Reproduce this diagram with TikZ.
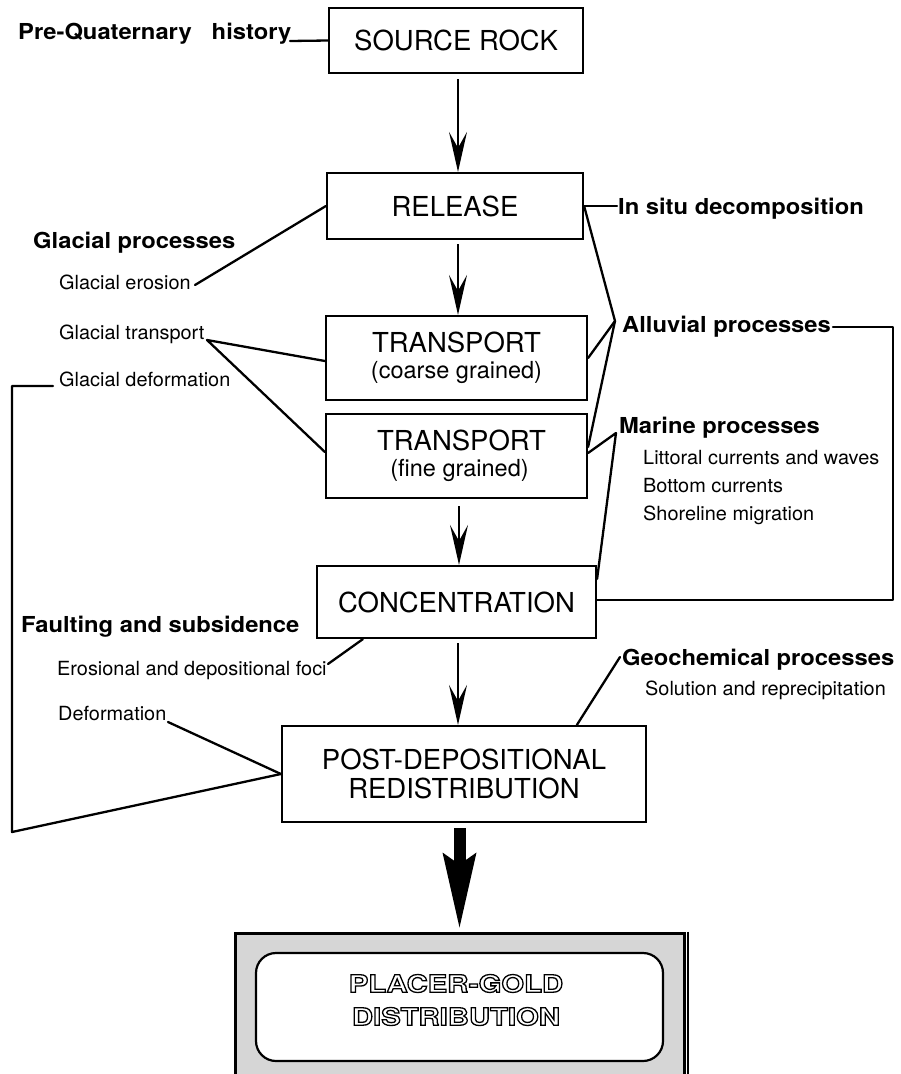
\documentclass[tikz,border=0pt]{standalone}
\usepackage{fontspec}
\usetikzlibrary{arrows.meta,calc}
\newfontfamily\boxfnt{TeX Gyre Heros}
\newfontfamily\labfnt[FakeStretch=1.08]{TeX Gyre Heros}
\newfontfamily\smlfnt[FakeStretch=1.02]{TeX Gyre Heros}
\newfontfamily\holfnt[FakeStretch=1.22]{TeX Gyre Heros}
\newcommand{\hollowtext}[1]{\special{pdf:literal direct 2 Tr 1.3 w 1 g 0 G}#1\special{pdf:literal direct 0 Tr 0 g 0 G}}
\begin{document}
\begin{tikzpicture}[x=1pt,y=-1pt,
  box/.style={draw, line width=2.2pt, inner sep=0pt, align=center,
    font=\boxfnt\fontsize{27.5}{29}\selectfont},
  boldlbl/.style={anchor=base west, inner sep=0pt,
    font=\labfnt\bfseries\fontsize{22}{25}\selectfont},
  smalllbl/.style={anchor=base west, inner sep=0pt,
    font=\smlfnt\fontsize{19.5}{22}\selectfont},
  conn/.style={line width=2.3pt, line cap=round, line join=round},
  flow/.style={line width=1.9pt, -{Stealth[length=40pt,width=18pt,inset=16pt]}},
  bigflow/.style={line width=12pt, -{Stealth[length=75pt,width=34pt,inset=12pt,line width=0pt]}}
]
\useasboundingbox[fill=white] (0,0) rectangle (901,1074);

% ---------- boxes ----------
\node[box, minimum width=254pt, minimum height=65pt] (src) at (456,40.5) {SOURCE ROCK};
\node[box, minimum width=256pt, minimum height=66pt] (rel) at (455,206) {RELEASE};
\node[box, minimum width=261pt, minimum height=84pt] (tc) at (456.5,358)
  {TRANSPORT\\[-2.5pt]{\fontsize{23.5}{26}\selectfont (coarse grained)}};
\node[box, minimum width=261pt, minimum height=84pt] (tf) at (456.5,456)
  {\hspace*{10pt}TRANSPORT\\[-2.5pt]{\fontsize{23.5}{26}\selectfont\hspace*{6pt}(fine grained)}};
\node[box, minimum width=279pt, minimum height=72pt] (conc) at (456.5,602) {CONCENTRATION};
\node[box, minimum width=364pt, minimum height=96pt] (post) at (464,774)
  {POST-DEPOSITIONAL\\REDISTRIBUTION};

\node[draw, line width=3pt, fill=black!16, inner sep=0pt,
      minimum width=449pt, minimum height=160pt] (outer) at (459.5,1013) {};
\draw[line width=2pt] ([xshift=2pt]outer.north east) -- ([xshift=2pt]outer.south east);
\node[draw, line width=2.2pt, fill=white, rounded corners=20pt, inner sep=0pt,
      minimum width=407pt, minimum height=108pt] (pgbox) at (459.5,1007) {};
\node[font=\holfnt\bfseries\fontsize{24}{33}\selectfont, align=center, inner sep=0pt]
  (pgtext) at (456,1000) {\hollowtext{PLACER-GOLD}\\\hollowtext{DISTRIBUTION}};

% ---------- labels ----------
\node[boldlbl] (pre) at (18,39.5) {Pre-Quaternary\hspace{20pt}history};
\node[boldlbl] (glac) at (33,248) {Glacial processes};
\node[smalllbl] (gero) at (59,289) {Glacial erosion};
\node[smalllbl] (gtr) at (59,339) {Glacial transport};
\node[smalllbl] (gdef) at (59,386) {Glacial deformation};
\node[boldlbl] (fault) at (21,632) {Faulting and subsidence};
\node[smalllbl] (ero) at (57,675) {Erosional and depositional foci};
\node[smalllbl] (defo) at (58,720) {Deformation};

\node[boldlbl] (insitu) at (618,214) {In situ decomposition};
\node[boldlbl] (alluv) at (622,332) {Alluvial processes};
\node[boldlbl] (marine) at (619,433) {Marine processes};
\node[smalllbl] (litt) at (643,464) {Littoral currents and waves};
\node[smalllbl] (bott) at (643,492) {Bottom currents};
\node[smalllbl] (shore) at (643,520) {Shoreline migration};
\node[boldlbl] (geo) at (622,665) {Geochemical processes};
\node[smalllbl] (solu) at (645,695) {Solution and reprecipitation};

% ---------- connector ends ----------
\coordinate (preE) at (290,41);
\coordinate (geroE) at (195,285);
\coordinate (gtrE) at (207,340);
\coordinate (gdefE) at (53,386);
\coordinate (defE) at (168,722);
\coordinate (eroE) at (328,664);
\coordinate (insE) at (617,206);
\coordinate (alA) at (615,321);
\coordinate (maA) at (616,433);
\coordinate (alE) at (833,327);
\coordinate (geoE) at (620,657);

% ---------- connectors ----------
\draw[conn] (preE) -- (src.west);
\draw[conn] (geroE) -- (rel.west);
\draw[conn] ([yshift=-3pt]tc.west) -- (gtrE) -- ([yshift=4pt]tf.west);
\draw[conn] (gdefE) -- (12,386) -- (12,832) -- (post.west);
\draw[conn] (defE) -- (post.west);
\draw[conn] (eroE) -- ($(conc.south west)+(47,0)$);
\draw[conn] (rel.east) -- (insE);
\draw[conn] (rel.east) -- (alA) -- (tc.east);
\draw[conn] (alA) -- ([yshift=9pt]tf.east);
\draw[conn] ([yshift=3pt]tf.east) -- (maA) -- ([yshift=-14pt]conc.north east);
\draw[conn] (alE) -- (893,327) -- (893,600) -- ([yshift=2pt]conc.east);
\draw[conn] (geoE) -- ($(post.north west)+(296,0)$);

% ---------- flow arrows ----------
\draw[flow] ([xshift=2pt,yshift=-5pt]src.south) -- ([xshift=3pt]rel.north);
\draw[flow] ([xshift=3pt,yshift=-4pt]rel.south) -- ([xshift=1.5pt]tc.north);
\draw[flow] ([xshift=2.5pt,yshift=-7pt]tf.south) -- ([xshift=2.5pt]conc.north);
\draw[flow] ([xshift=1.5pt,yshift=-4pt]conc.south) -- ([xshift=-6pt]post.north);
\draw[bigflow] ([xshift=-4.5pt,yshift=-5pt]post.south) -- ([yshift=4pt]outer.north);
\end{tikzpicture}
\end{document}
